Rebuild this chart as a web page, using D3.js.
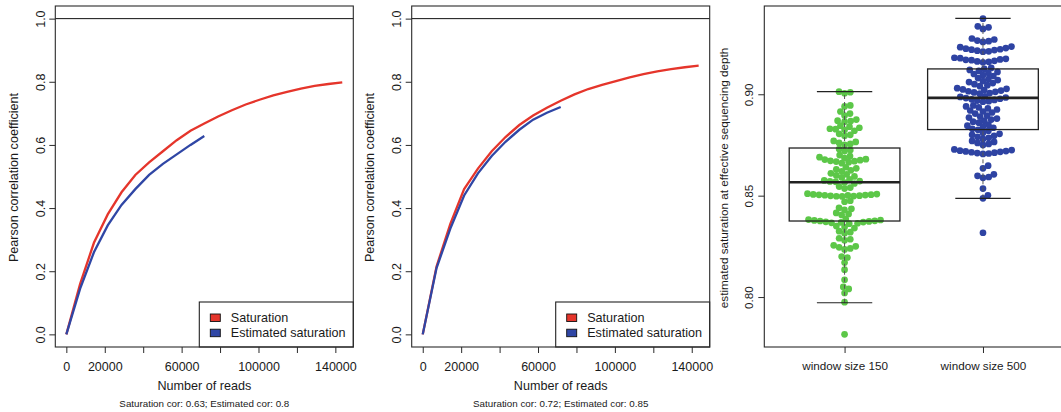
<!DOCTYPE html>
<meta charset="utf-8">
<style>
  body { margin: 0; background: #fff; }
  svg { display: block; font-family: "Liberation Sans", Arial, sans-serif; }
  .frame { fill: none; stroke: #2a2a2a; stroke-width: 1.1px; }
  .axis text { fill: #1a1a1a; font-size: 12.5px; }
  .axis line { stroke: #2a2a2a; stroke-width: 1px; }
  .axis path { display: none; }
  .lab { fill: #1a1a1a; font-size: 12.6px; }
  .cap { fill: #1a1a1a; font-size: 9.8px; }
  .legend text { fill: #1a1a1a; font-size: 12.6px; }
  .right .axis text { font-size: 11.7px; }
</style>
<svg width="1061" height="412"></svg>
<script src="https://d3js.org/d3.v7.min.js"></script>
<script>
  // number of reads at each subsample
  var reads = [0, 7180, 14360, 21540, 28720, 35900, 43080, 50260, 57440, 64620, 71800,
    78980, 86160, 93340, 100520, 107700, 114880, 122060, 129240, 136420, 143600];

  // left panel
  var satLeft = [0, 0.16, 0.29, 0.38, 0.45, 0.505, 0.545, 0.58, 0.615, 0.645, 0.668,
    0.69, 0.71, 0.728, 0.743, 0.757, 0.768, 0.778, 0.787, 0.793, 0.798];
  var estLeft = [0, 0.145, 0.26, 0.345, 0.41, 0.46, 0.505, 0.54, 0.57, 0.6, 0.628];

  // middle panel
  var satMid = [0, 0.215, 0.35, 0.46, 0.525, 0.58, 0.625, 0.663, 0.693, 0.718, 0.74,
    0.76, 0.777, 0.79, 0.802, 0.814, 0.824, 0.833, 0.84, 0.846, 0.851];
  var estMid = [0, 0.21, 0.335, 0.44, 0.51, 0.565, 0.61, 0.648, 0.68, 0.702, 0.72];

  var xTicks = [0, 20000, 40000, 60000, 80000, 100000, 120000, 140000];
  var xTickLabels = [0, 20000, 60000, 100000, 140000];
  var yTicks = [0, 0.2, 0.4, 0.6, 0.8, 1.0];
  var legendLabels = ["Saturation", "Estimated saturation"];

  // right panel
  var groups = ["window size 150", "window size 500"];
  var win150 = [0.9013, 0.9005, 0.9010, 0.8945, 0.8940, 0.8915, 0.8905, 0.8895,
    0.8875, 0.8870, 0.8868, 0.8865,
    0.8845, 0.8840, 0.8835, 0.8830, 0.8828, 0.8825, 0.8820,
    0.8805, 0.8800, 0.8795, 0.8770, 0.8765, 0.8760, 0.8755, 0.8750,
    0.8730, 0.8725, 0.8720, 0.8700, 0.8695, 0.8690,
    0.8685, 0.8680, 0.8678, 0.8675, 0.8672, 0.8670, 0.8668, 0.8665, 0.8660,
    0.8640, 0.8635, 0.8630, 0.8625, 0.8620, 0.8610, 0.8605, 0.8600, 0.8595, 0.8590,
    0.8580, 0.8575, 0.8572, 0.8570, 0.8568, 0.8565, 0.8560,
    0.8545, 0.8540, 0.8535,
    0.8510, 0.8508, 0.8506, 0.8505, 0.8504, 0.8503, 0.8502, 0.8501, 0.8500, 0.8499, 0.8498, 0.8497, 0.8496,
    0.8475, 0.8470, 0.8440, 0.8435, 0.8430, 0.8415, 0.8410, 0.8405,
    0.8385, 0.8382, 0.8380, 0.8378, 0.8376, 0.8375, 0.8373, 0.8371, 0.8370, 0.8368, 0.8366, 0.8364, 0.8362,
    0.8350, 0.8345, 0.8340, 0.8325, 0.8320, 0.8315, 0.8290, 0.8285, 0.8280,
    0.8255, 0.8250, 0.8245, 0.8240, 0.8235, 0.8200, 0.8195, 0.8170, 0.8135, 0.8085,
    0.8050, 0.8040, 0.8020, 0.7975, 0.7816];
  var win500 = [0.9373, 0.9335, 0.9330, 0.9322,
    0.9275, 0.9270, 0.9265, 0.9262, 0.9258,
    0.9235, 0.9232, 0.9228, 0.9225, 0.9222, 0.9220, 0.9218, 0.9215, 0.9212, 0.9210,
    0.9180, 0.9178, 0.9175, 0.9172, 0.9170, 0.9168, 0.9165, 0.9162, 0.9160, 0.9158,
    0.9130, 0.9125, 0.9120, 0.9115, 0.9110, 0.9105, 0.9100, 0.9095, 0.9090,
    0.9080, 0.9075, 0.9070, 0.9065, 0.9060, 0.9055, 0.9050, 0.9045, 0.9040,
    0.9030, 0.9027, 0.9024, 0.9021, 0.9018, 0.9015, 0.9012, 0.9009, 0.9006, 0.9003,
    0.8990, 0.8987, 0.8984, 0.8981, 0.8978, 0.8975, 0.8972, 0.8969, 0.8966, 0.8963,
    0.8945, 0.8940, 0.8935, 0.8930, 0.8925, 0.8920, 0.8915, 0.8910, 0.8905,
    0.8895, 0.8890, 0.8885, 0.8880, 0.8875, 0.8870, 0.8865, 0.8860,
    0.8850, 0.8845, 0.8840, 0.8835, 0.8830, 0.8825, 0.8820,
    0.8810, 0.8805, 0.8800, 0.8795, 0.8790, 0.8785, 0.8780,
    0.8770, 0.8765, 0.8760, 0.8755, 0.8750,
    0.8728, 0.8725, 0.8722, 0.8720, 0.8718, 0.8716, 0.8714, 0.8712, 0.8710, 0.8708, 0.8706,
    0.8648, 0.8635, 0.8605, 0.8598, 0.8592, 0.8588, 0.8535, 0.8502, 0.8487, 0.8317];
  // lower whisker, Q1, median, Q3, upper whisker
  var box150 = [0.7972, 0.8375, 0.8566, 0.8735, 0.9013];
  var box500 = [0.8487, 0.8826, 0.8982, 0.9125, 0.9374];
  var rightTicks = [0.80, 0.85, 0.90];

  var red = "#e5352b", blue = "#2f46a5", green = "#5cc748", pointBlue = "#2e43a3";
  var plotTop = 6, plotBottom = 347;

  var svg = d3.select("svg");
  svg.append("rect").attr("width", 1061).attr("height", 412).attr("fill", "#fff");

  function curvePanel(left, sat, est, caption) {
    var right = left + 298;
    var ext = d3.extent(reads), pad = (ext[1] - ext[0]) * 0.04;
    var x = d3.scaleLinear().domain([ext[0] - pad, ext[1] + pad]).range([left, right]);
    var y = d3.scaleLinear().domain([-0.04, 1.04]).range([plotBottom, plotTop]);
    var g = svg.append("g");

    g.append("line")
      .attr("x1", left).attr("x2", right)
      .attr("y1", y(1)).attr("y2", y(1))
      .attr("stroke", "#111").attr("stroke-width", 1);

    var line = d3.line()
      .x(function(d, i) { return x(reads[i]); })
      .y(function(d) { return y(d); });
    g.append("path").datum(sat).attr("d", line)
      .attr("fill", "none").attr("stroke", red).attr("stroke-width", 2.3);
    g.append("path").datum(est).attr("d", line)
      .attr("fill", "none").attr("stroke", blue).attr("stroke-width", 2.3);

    // legend (bottom right)
    var lg = g.append("g").attr("class", "legend");
    lg.append("rect").attr("x", right - 154).attr("y", 302).attr("width", 154).attr("height", plotBottom - 302)
      .attr("fill", "#fff").attr("stroke", "#222").attr("stroke-width", 1.1);
    [red, blue].forEach(function(c, i) {
      lg.append("rect").attr("x", right - 143).attr("y", 314 + i * 15.2).attr("width", 10).attr("height", 7.5)
        .attr("fill", c).attr("stroke", "#111").attr("stroke-width", 0.9);
      lg.append("text").attr("x", right - 122.5).attr("y", 322.2 + i * 14.8).text(legendLabels[i]);
    });

    g.append("rect").attr("class", "frame")
      .attr("x", left).attr("y", plotTop).attr("width", right - left).attr("height", plotBottom - plotTop);

    g.append("g").attr("class", "axis")
      .attr("transform", "translate(0," + plotBottom + ")")
      .call(d3.axisBottom(x).tickValues(xTicks).tickSize(6).tickPadding(9)
        .tickFormat(function(d) { return xTickLabels.indexOf(d) >= 0 ? String(d) : ""; }));

    var ya = g.append("g").attr("class", "axis")
      .attr("transform", "translate(" + left + ",0)")
      .call(d3.axisLeft(y).tickValues(yTicks).tickSize(6).tickFormat(d3.format(".1f")));
    ya.selectAll(".tick text")
      .attr("x", null).attr("dy", null)
      .attr("text-anchor", "middle")
      .attr("transform", "translate(-10.5,0) rotate(-90)");

    var cx = (left + right) / 2;
    g.append("text").attr("class", "lab").attr("text-anchor", "middle")
      .attr("x", cx).attr("y", 389.5).text("Number of reads");
    g.append("text").attr("class", "lab").attr("text-anchor", "middle")
      .attr("transform", "translate(" + (left - 37.5) + ",177.5) rotate(-90)")
      .text("Pearson correlation coefficient");
    g.append("text").attr("class", "cap").attr("text-anchor", "middle")
      .attr("x", cx).attr("y", 406.5).text(caption);
  }

  curvePanel(55.3, satLeft, estLeft, "Saturation cor: 0.63; Estimated cor: 0.8");
  curvePanel(411.7, satMid, estMid, "Saturation cor: 0.72; Estimated cor: 0.85");

  // swarm layout: each point takes the offset nearest the centre that does not overlap
  function swarm(vals, y, d) {
    var order = vals.map(function(v, i) { return i; })
      .sort(function(a, b) { return vals[a] - vals[b]; });
    var placed = [], xs = new Array(vals.length);
    order.forEach(function(i) {
      var yi = y(vals[i]);
      var near = placed.filter(function(p) { return Math.abs(p.y - yi) < d; });
      var cands = [0];
      near.forEach(function(p) {
        var off = Math.sqrt(d * d - (p.y - yi) * (p.y - yi));
        cands.push(p.x + off, p.x - off);
      });
      var ok = cands.filter(function(c) {
        return near.every(function(p) {
          return (c - p.x) * (c - p.x) + (yi - p.y) * (yi - p.y) >= d * d - 0.01;
        });
      });
      var best = ok.reduce(function(a, b) { return Math.abs(b) < Math.abs(a) - 1e-9 ? b : a; });
      xs[i] = best;
      placed.push({ x: best, y: yi });
    });
    return xs;
  }

  (function() {
    var left = 764.3;
    var all = win150.concat(win500);
    var ext = d3.extent(all), pad = (ext[1] - ext[0]) * 0.04;
    var y = d3.scaleLinear().domain([ext[0] - pad, ext[1] + pad]).range([plotBottom, plotTop]);
    var x = d3.scaleLinear().domain([0.42, 2.58]).range([left, left + 2.16 * 138.4]);
    var g = svg.append("g").attr("class", "right");

    var sets = [
      { vals: win150, box: box150, col: green, pos: 1 },
      { vals: win500, box: box500, col: pointBlue, pos: 2 }
    ];

    sets.forEach(function(s) {
      var xs = swarm(s.vals, y, 5.8);
      g.append("g").selectAll("circle")
        .data(s.vals)
        .enter().append("circle")
        .attr("cx", function(d, i) { return x(s.pos) + xs[i]; })
        .attr("cy", function(d) { return y(d); })
        .attr("r", 3.35)
        .attr("fill", s.col);
    });

    sets.forEach(function(s) {
      var b = s.box, c = x(s.pos), hw = x(s.pos + 0.4) - c, cw = hw / 2;
      var bg = g.append("g").attr("stroke", "#222").attr("fill", "none");
      bg.append("line").attr("x1", c).attr("x2", c).attr("y1", y(b[0])).attr("y2", y(b[1]))
        .attr("stroke-dasharray", "4,3").attr("stroke-width", 1).attr("stroke", "#555");
      bg.append("line").attr("x1", c).attr("x2", c).attr("y1", y(b[3])).attr("y2", y(b[4]))
        .attr("stroke-dasharray", "4,3").attr("stroke-width", 1).attr("stroke", "#555");
      bg.append("line").attr("x1", c - cw).attr("x2", c + cw).attr("y1", y(b[0])).attr("y2", y(b[0])).attr("stroke-width", 1.2);
      bg.append("line").attr("x1", c - cw).attr("x2", c + cw).attr("y1", y(b[4])).attr("y2", y(b[4])).attr("stroke-width", 1.2);
      bg.append("rect").attr("x", c - hw).attr("y", y(b[3])).attr("width", 2 * hw).attr("height", y(b[1]) - y(b[3]))
        .attr("stroke-width", 1.3);
      bg.append("line").attr("x1", c - hw).attr("x2", c + hw).attr("y1", y(b[2])).attr("y2", y(b[2])).attr("stroke-width", 2.6);
    });

    g.append("rect").attr("class", "frame")
      .attr("x", left).attr("y", plotTop).attr("width", x.range()[1] - left).attr("height", plotBottom - plotTop);

    g.append("g").attr("class", "axis")
      .attr("transform", "translate(0," + plotBottom + ")")
      .call(d3.axisBottom(x).tickValues([1, 2]).tickSize(6).tickPadding(9)
        .tickFormat(function(d) { return groups[d - 1]; }));

    var ya = g.append("g").attr("class", "axis")
      .attr("transform", "translate(" + left + ",0)")
      .call(d3.axisLeft(y).tickValues(rightTicks).tickSize(6).tickFormat(d3.format(".2f")));
    ya.selectAll(".tick text")
      .attr("x", null).attr("dy", null)
      .attr("text-anchor", "middle")
      .attr("transform", "translate(-11.8,0) rotate(-90)");

    g.append("text").attr("class", "lab").attr("text-anchor", "middle")
      .style("font-size", "11.7px")
      .attr("transform", "translate(" + (left - 36.3) + ",178) rotate(-90)")
      .text("estimated saturation at effective sequencing depth");
  })();
</script>
